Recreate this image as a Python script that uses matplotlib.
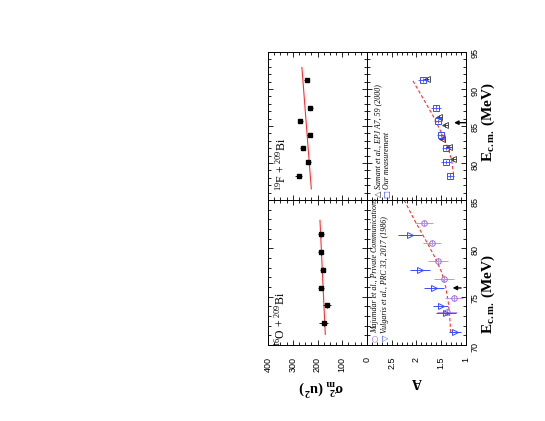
import matplotlib
matplotlib.use('Agg')
import matplotlib.pyplot as plt
from matplotlib.ticker import MultipleLocator, FixedLocator

plt.rcParams['font.family'] = ['Liberation Sans', 'DejaVu Sans']
plt.rcParams['mathtext.fontset'] = 'custom'
plt.rcParams['mathtext.rm'] = 'Liberation Serif'
plt.rcParams['mathtext.it'] = 'Liberation Serif:italic'
plt.rcParams['mathtext.bf'] = 'Liberation Serif:bold'

# ---------------- data ----------------
# 19F + 209Bi : sigma_m^2
F19_E = [91.2, 87.5, 85.7, 83.8, 82.0, 80.1, 78.3]
F19_sig2 = [244, 229, 270, 232, 259, 238, 276]
F19_sig2_err = [10, 10, 10, 10, 10, 10, 15]
F19_fit_E = [76.5, 92.9]
F19_fit_sig2 = [225, 263]

# 16O + 209Bi : sigma_m^2
O16_E = [81.45, 79.6, 77.8, 75.9, 74.1, 72.25]
O16_sig2 = [187, 187, 179, 185, 162, 174]
O16_sig2_err = [12, 10, 10, 12, 15, 18]
O16_fit_E = [71.1, 82.9]
O16_fit_sig2 = [168.5, 190]

# 19F + 209Bi : A  (our measurement)
our_E = [91.2, 87.5, 85.7, 83.8, 82.0, 80.1, 78.3]
our_A = [1.86, 1.61, 1.56, 1.505, 1.40, 1.40, 1.32]
our_A_err = [0.1, 0.1, 0.08, 0.08, 0.08, 0.1, 0.07]
# Samant et al.
sam_E = [91.4, 86.2, 85.1, 83.3, 82.1, 80.5]
sam_A = [1.79, 1.54, 1.42, 1.49, 1.34, 1.26]
# fit
F19_Afit_E = [78.4, 80.4, 82.0, 84.0, 86.3, 88.3, 91.2]
F19_Afit_A = [1.25, 1.29, 1.36, 1.49, 1.66, 1.83, 2.08]
F19_VB = 85.45

# 16O + 209Bi : A
maj_E = [82.6, 80.6, 78.7, 76.8, 74.9, 73.4]
maj_A = [1.85, 1.68, 1.56, 1.45, 1.25, 1.38]
maj_A_err = [0.19, 0.18, 0.2, 0.2, 0.18, 0.2]
vul_E = [81.4, 77.8, 75.9, 74.0, 73.3, 71.3]
vul_A = [2.13, 1.93, 1.64, 1.51, 1.40, 1.22]
vul_A_err = [0.25, 0.2, 0.2, 0.15, 0.2, 0.12]
O16_Afit_E = [71.3, 73.0, 74.5, 76.0, 77.5, 79.0, 81.0, 83.0, 85.0]
O16_Afit_A = [1.31, 1.33, 1.36, 1.41, 1.49, 1.62, 1.83, 2.05, 2.25]
O16_VB = 75.9

sig_ticks = [0, 100, 200, 300, 400]
A_ticks = [1, 1.5, 2, 2.5]
A_ticklabels = ['1', '1.5', '2', '2.5']
E_ticks_top = [80, 85, 90, 95]
E_ticks_bot = [70, 75, 80, 85]

# ---------------- figure ----------------
W, H = 545, 421
fig = plt.figure(figsize=(W / 100, H / 100), dpi=100)


def axes_px(x0, y0, x1, y1):
    return fig.add_axes([x0 / W, 1 - y1 / H, (x1 - x0) / W, (y1 - y0) / H])


ax_st = axes_px(268, 52, 367, 200)
ax_sb = axes_px(268, 200, 367, 345)
ax_at = axes_px(367, 52, 466, 200)
ax_ab = axes_px(367, 200, 466, 345)

RED = '#ff3030'
BLUE = '#3a4cff'
PURP = '#9b6ddc'
PURP_L = '#b996e6'

for ax in (ax_st, ax_sb, ax_at, ax_ab):
    ax.tick_params(which='both', direction='in', top=True, right=True,
                   left=True, bottom=True, labelleft=False, labeltop=False,
                   labelsize=6.5, width=0.6)
    ax.tick_params(axis='x', pad=8.5)
    ax.tick_params(axis='y', pad=3)
    ax.tick_params(which='major', length=3.8)
    ax.tick_params(which='minor', length=2.0)
    ax.tick_params(axis='both', labelrotation=90)
    for s in ax.spines.values():
        s.set_linewidth(0.7)

for ax in (ax_st, ax_sb):
    ax.set_xlim(400, 0)
    ax.xaxis.set_major_locator(FixedLocator(sig_ticks))
    ax.xaxis.set_minor_locator(MultipleLocator(25))
    ax.tick_params(labelright=False)
for ax in (ax_at, ax_ab):
    ax.set_xlim(3, 1)
    ax.xaxis.set_major_locator(FixedLocator(A_ticks))
    ax.xaxis.set_minor_locator(MultipleLocator(0.1))
    ax.tick_params(labelright=True)
for ax in (ax_st, ax_at):
    ax.set_ylim(75, 95)
    ax.yaxis.set_major_locator(FixedLocator(E_ticks_top))
    ax.yaxis.set_minor_locator(MultipleLocator(1))
    ax.tick_params(labelbottom=False)
for ax in (ax_sb, ax_ab):
    ax.set_ylim(70, 85)
    ax.yaxis.set_major_locator(FixedLocator(E_ticks_bot))
    ax.yaxis.set_minor_locator(MultipleLocator(1))
    ax.tick_params(labelbottom=True)
ax_ab.set_xticklabels(A_ticklabels)

# sigma^2 panels
ax_st.plot(F19_fit_sig2, F19_fit_E, color=RED, lw=0.8, zorder=1)
ax_st.errorbar(F19_sig2, F19_E, xerr=F19_sig2_err, yerr=0.25, fmt='s',
               color='black', ms=3.3, elinewidth=0.6, capsize=0, zorder=3)
ax_sb.plot(O16_fit_sig2, O16_fit_E, color=RED, lw=0.8, zorder=1)
ax_sb.errorbar(O16_sig2, O16_E, xerr=O16_sig2_err, yerr=0.25, fmt='s',
               color='black', ms=3.3, elinewidth=0.6, capsize=0, zorder=3)

# A panels
ax_at.plot(F19_Afit_A, F19_Afit_E, color=RED, lw=0.8, ls=(0, (3, 2)), zorder=1)
ax_at.errorbar(sam_A, sam_E, xerr=0.05, yerr=0.25, fmt='<', mfc='none',
               mec='#333333', ecolor='#333333', ms=4.2, mew=0.6,
               elinewidth=0.6, capsize=0, zorder=2)
ax_at.errorbar(our_A, our_E, xerr=our_A_err, yerr=0.3, fmt='s', mfc='none',
               mec=BLUE, ecolor=BLUE, ms=3.8, mew=0.7, elinewidth=0.6,
               capsize=0, zorder=3)
ax_at.annotate('', xy=(1.24, F19_VB), xytext=(1.0, F19_VB),
               arrowprops=dict(arrowstyle='-|>', color='black', lw=1.0,
                               mutation_scale=6, shrinkA=0, shrinkB=0))

ax_ab.plot(O16_Afit_A, O16_Afit_E, color=RED, lw=0.8, ls=(0, (3, 2)), zorder=1)
ax_ab.errorbar(maj_A, maj_E, xerr=maj_A_err, yerr=0.3, fmt='o', mfc='none',
               mec=PURP, ecolor=PURP_L, ms=4.0, mew=0.7, elinewidth=0.7,
               capsize=0, zorder=2)
ax_ab.errorbar(vul_A, vul_E, xerr=vul_A_err, fmt='>', mfc='none',
               mec=BLUE, ecolor=BLUE, ms=4.2, mew=0.7, elinewidth=0.7,
               capsize=0, zorder=3)
ax_ab.annotate('', xy=(1.27, O16_VB), xytext=(1.1, O16_VB),
               arrowprops=dict(arrowstyle='-|>', color='black', lw=1.0,
                               mutation_scale=6, shrinkA=0, shrinkB=0))

# ---------------- texts ----------------
def ftext(x, y, s, **kw):
    return fig.text(x / W, 1 - y / H, s, **kw)


SERIF = ['Liberation Serif', 'DejaVu Serif']
ftext(488, 122, r'E$_{\mathbf{c.m.}}$ (MeV)', rotation=90, ha='center',
      va='center', fontsize=11, family=SERIF, weight='bold')
ftext(488, 294, r'E$_{\mathbf{c.m.}}$ (MeV)', rotation=90, ha='center',
      va='center', fontsize=11, family=SERIF, weight='bold')
ftext(321, 387, r'σ$_{\mathbf{m}}^{\mathbf{2}}$ (u$^{\mathbf{2}}$)', rotation=180,
      ha='center', va='center', fontsize=10.5, family=SERIF, weight='bold')
ftext(417, 382, 'A', rotation=180, ha='center', va='center', fontsize=10,
      family=SERIF, weight='bold')

ftext(281, 191, r'$^{19}$F + $^{209}$Bi', rotation=90, ha='center',
      va='bottom', fontsize=8.5, family=SERIF)
ftext(280, 347, r'$^{16}$O + $^{209}$Bi', rotation=90, ha='center',
      va='bottom', fontsize=8.5, family=SERIF)

LEG = dict(rotation=90, ha='center', va='bottom', fontsize=5.7,
           family=SERIF, style='italic')
SYM = dict(rotation=90, ha='center', va='center', fontsize=6,
           family=['DejaVu Sans'])
ftext(375, 338, '○', color=PURP, **SYM)
ftext(375, 333, 'Majumdar et al., Private Communications', **LEG)
ftext(385, 338, '▽', color=BLUE, **SYM)
ftext(385, 333, 'Vulgaris et al., PRC 33, 2017 (1986)', **LEG)
ftext(378, 194, '△', color='#333333', **SYM)
ftext(378, 189, 'Samant et al., EPJ A7, 59 (2000)', **LEG)
ftext(387, 194, '□', color=BLUE, **SYM)
ftext(387, 189, 'Our measurement', **LEG)

fig.savefig('out.png', dpi=100)
